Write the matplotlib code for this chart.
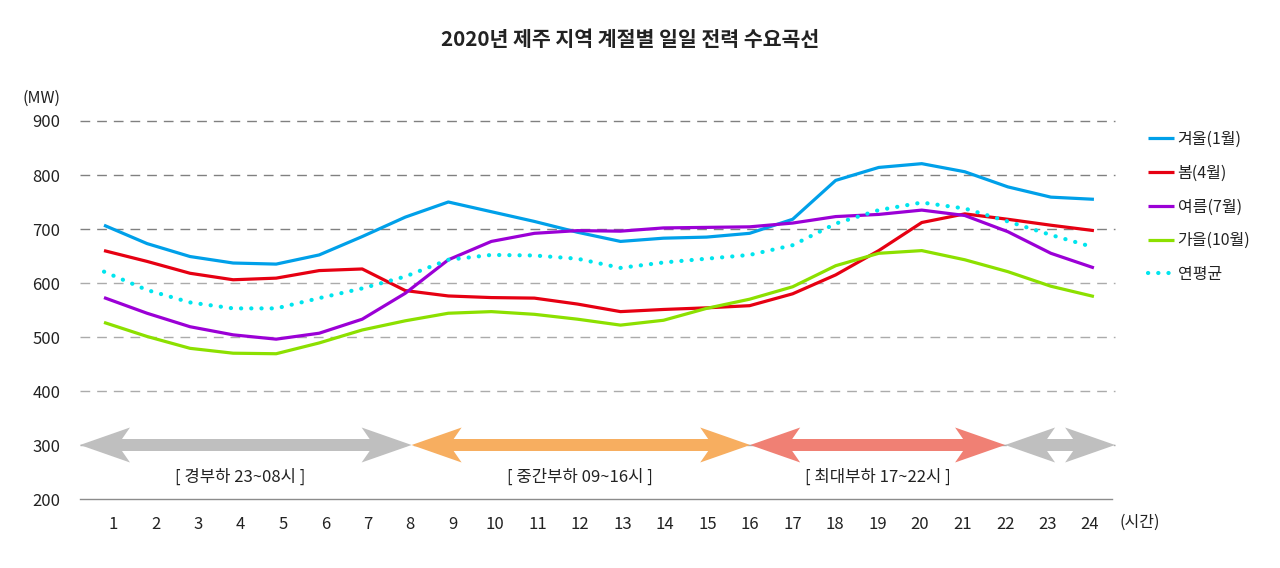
import matplotlib.pyplot as plt
from matplotlib.patches import Polygon

plt.rcParams['font.family'] = ['Noto Sans CJK KR', 'DejaVu Sans']

hours = list(range(1, 25))
winter = [707, 673, 649, 637, 635, 652, 686, 722, 750, 732, 714, 694,
          677, 683, 685, 692, 718, 790, 814, 821, 806, 778, 759, 755]
spring = [660, 640, 618, 606, 609, 623, 626, 586, 576, 573, 572, 561,
          547, 551, 554, 558, 580, 615, 660, 712, 728, 718, 707, 697]
summer = [573, 544, 519, 504, 496, 507, 533, 581, 643, 677, 692, 697,
          696, 702, 703, 704, 711, 723, 727, 735, 725, 695, 655, 628]
autumn = [527, 501, 479, 470, 469, 489, 513, 530, 544, 547, 542, 533,
          522, 531, 553, 570, 593, 632, 655, 660, 643, 621, 594, 575]
annual = [621, 587, 564, 553, 553, 572, 590, 612, 643, 652, 651, 645,
          628, 638, 645, 652, 670, 710, 735, 749, 738, 714, 689, 666]

series_labels = ['겨울(1월)', '봄(4월)', '여름(7월)', '가을(10월)']
series_colors = ['#00A0E9', '#E60012', '#9B00D6', '#8CE000']

yticks = [200, 300, 400, 500, 600, 700, 800, 900]

# load periods: edges, colours, labels, label centres
period_edges = [0.223, 8.03, 16.0, 22.0, 24.59]
period_colors = ['#BFBFBF', '#F7AE60', '#F08074', '#BFBFBF']
period_labels = ['[ 경부하 23~08시 ]', '[ 중간부하 09~16시 ]', '[ 최대부하 17~22시 ]', '']
period_centers = [4, 12, 19, None]

fig = plt.figure(figsize=(12.8, 5.68), dpi=100)
ax = fig.add_axes([80/1280, 69/568, 1032/1280, 378/568])
ax.set_xlim(0.2232, 24.517)
ax.set_ylim(200, 900)
for s in ['top', 'right', 'left']:
    ax.spines[s].set_visible(False)
ax.spines['bottom'].set_color('#8c8c8c')
ax.spines['bottom'].set_linewidth(1.0)

for v in yticks[1:]:
    c = '#808080' if v >= 700 else '#ababab'
    ax.axhline(v, 0, 1.003, color=c, lw=1.0, ls=(0, (7, 5)), clip_on=False, zorder=1)

ax.set_xticks(hours)
ax.set_xticklabels([str(h) for h in hours], fontsize=12, color='#222222')
ax.set_yticks(yticks)
ax.set_yticklabels([str(v) for v in yticks], fontsize=12, color='#222222')
ax.tick_params(axis='both', length=0)
ax.tick_params(axis='x', pad=12)
ax.tick_params(axis='y', pad=14)

# double arrows for load periods
L = 50 / 42.48   # head length
d = 8 / 42.48    # barb sweep
H = 17.5 / 0.54  # head half height
T = 6 / 0.54     # shaft half thickness
yc = 300
for i in range(4):
    x0, x1 = period_edges[i], period_edges[i + 1]
    pts = [(x0, yc), (x0 + L, yc + H), (x0 + L - d, yc + T), (x1 - L + d, yc + T),
           (x1 - L, yc + H), (x1, yc), (x1 - L, yc - H), (x1 - L + d, yc - T),
           (x0 + L - d, yc - T), (x0 + L, yc - H)]
    ax.add_patch(Polygon(pts, closed=True, facecolor=period_colors[i],
                         edgecolor='none', clip_on=False, zorder=2))
    if period_labels[i]:
        ax.text(period_centers[i], 241, period_labels[i], ha='center', va='center',
                fontsize=12, color='#222222')

# lines use their own (slightly shifted) x scale, as in the original
lx = ax.twiny()
lx.set_xlim(0.4424, 24.42)
lx.set_axis_off()
handles = []
for vals, lab, col in zip([winter, spring, summer, autumn], series_labels, series_colors):
    h, = lx.plot(hours, vals, color=col, lw=2.3, label=lab, solid_joinstyle='round',
                 solid_capstyle='butt', zorder=3)
    handles.append(h)
h, = lx.plot(hours, annual, color='#00E5EE', lw=3.0, ls=(0, (0.05, 2.4)),
             dash_capstyle='round', label='연평균', zorder=3)
handles.append(h)

fig.legend(handles=handles, loc='upper left', bbox_to_anchor=(1148/1280, 1 - 131/568),
           frameon=False, fontsize=11.5, handlelength=1.6, handletextpad=0.25,
           labelspacing=1.05, borderpad=0, borderaxespad=0, labelcolor='#222222')

fig.text(630/1280, 1 - 40/568, '2020년 제주 지역 계절별 일일 전력 수요곡선', ha='center',
         va='center', fontsize=14.8, fontweight='bold', color='#222222')
fig.text(42/1280, 1 - 98/568, '(MW)', ha='center', va='center', fontsize=11.5, color='#222222')
fig.text(1140/1280, 1 - 522/568, '(시간)', ha='center', va='center', fontsize=11.5, color='#222222')

fig.savefig('out.png', dpi=100)
